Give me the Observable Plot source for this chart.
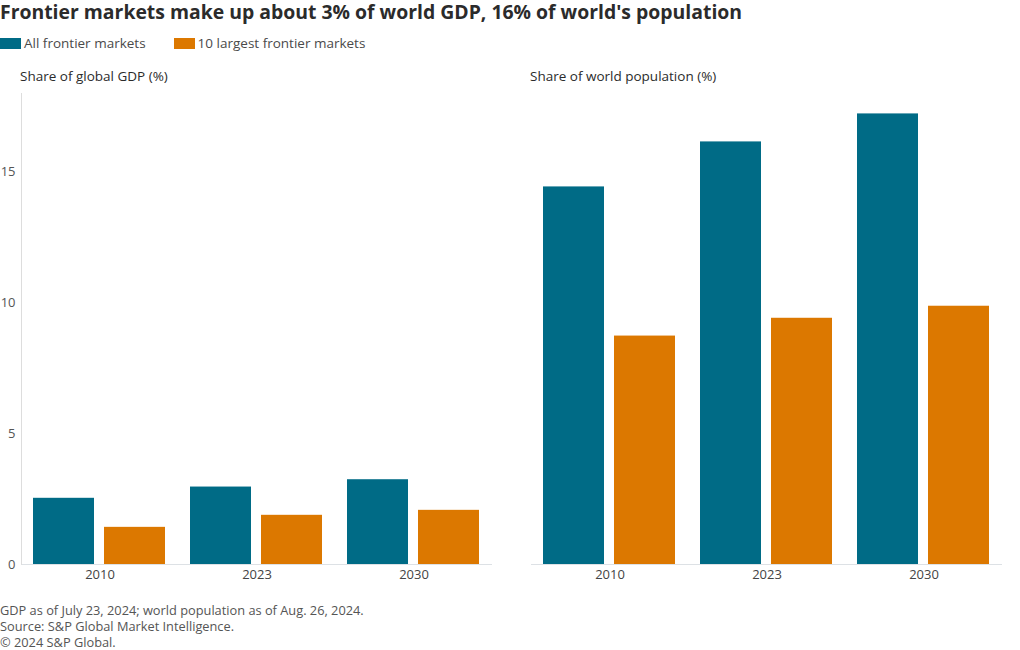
<!DOCTYPE html>
<html>
<head>
<meta charset="utf-8">
<script src="https://cdn.jsdelivr.net/npm/d3@7"></script>
<script src="https://cdn.jsdelivr.net/npm/@observablehq/plot@0.6"></script>
<style>
  html, body { margin: 0; padding: 0; background: #fff; }
  body { width: 1020px; height: 650px; position: relative; overflow: hidden; font-family: "Open Sans", Roboto, sans-serif; }
  .title { position: absolute; left: 0; top: -1px; font-size: 19.4px; font-weight: 700; color: #2b2b2b; white-space: nowrap; line-height: 26px; }
  .legend { position: absolute; left: 0; top: 34px; font-size: 13.5px; color: #4a4a4a; display: flex; align-items: center; line-height: 18px; }
  .legend .item { display: flex; align-items: center; margin-right: 28px; }
  .legend .sw { width: 21px; height: 11px; margin-right: 3px; }
  .sub { position: absolute; top: 67px; font-size: 13.5px; color: #2b2b2b; white-space: nowrap; line-height: 18px; }
  .panel { position: absolute; top: 85px; }
  .foot { position: absolute; left: 0; top: 602px; font-size: 12.8px; color: #555; line-height: 16px; white-space: nowrap; }
</style>
</head>
<body>
<div class="title" id="title"></div>
<div class="legend" id="legend"></div>
<div class="sub" id="sub0" style="left:20px"></div>
<div class="sub" id="sub1" style="left:530px"></div>
<div class="panel" id="p0" style="left:0px"></div>
<div class="panel" id="p1" style="left:510px"></div>
<div class="foot" id="foot"></div>
<script>
const titleText = "Frontier markets make up about 3% of world GDP, 16% of world's population";
const seriesNames = ["All frontier markets", "10 largest frontier markets"];
const seriesColors = ["#006B86", "#DC7800"];
const years = ["2010", "2023", "2030"];
const panelTitles = ["Share of global GDP (%)", "Share of world population (%)"];
const gdpAll = [2.53, 2.96, 3.24];
const gdpTop10 = [1.42, 1.88, 2.07];
const popAll = [14.43, 16.15, 17.22];
const popTop10 = [8.73, 9.41, 9.87];
const yTicks = [0, 5, 10, 15];
const footLines = [
  "GDP as of July 23, 2024; world population as of Aug. 26, 2024.",
  "Source: S&P Global Market Intelligence.",
  "\u00A9 2024 S&P Global."
];

document.getElementById("title").textContent = titleText;
const leg = document.getElementById("legend");
seriesNames.forEach((s, i) => {
  const it = document.createElement("div"); it.className = "item";
  const sw = document.createElement("div"); sw.className = "sw"; sw.style.background = seriesColors[i];
  const tx = document.createElement("span"); tx.textContent = s;
  it.appendChild(sw); it.appendChild(tx); leg.appendChild(it);
});
document.getElementById("sub0").textContent = panelTitles[0];
document.getElementById("sub1").textContent = panelTitles[1];
document.getElementById("foot").innerHTML = footLines.map(l => l.replace(/&/g, "&amp;")).join("<br>");

function rows(allVals, topVals) {
  const out = [];
  years.forEach((y, i) => {
    out.push({year: y, series: seriesNames[0], value: allVals[i]});
    out.push({year: y, series: seriesNames[1], value: topVals[i]});
  });
  return out;
}

function panel(data, showY) {
  const marks = [
    Plot.barY(data, {fx: "year", x: "series", y: "value", fill: "series"}),
    Plot.ruleY([0], {stroke: "#dde1e5", strokeWidth: 1})
  ];
  if (showY) {
    marks.push(Plot.axisY({ticks: yTicks, tickSize: 0, tickPadding: 6, fontSize: 13, fill: "#555", label: null}));
    marks.push(Plot.frame({anchor: "left", stroke: "#dddddd", facetAnchor: "left"}));
  }
  return Plot.plot({
    width: 510,
    height: 509,
    marginTop: 8,
    marginBottom: 30,
    marginLeft: 20,
    marginRight: 17,
    style: {fontFamily: "'Open Sans', Roboto, sans-serif", fontSize: "13px", color: "#444", background: "#fff"},
    fx: {domain: years, padding: 0, label: null, tickSize: 0, tickPadding: 5, fontSize: 13},
    x: {domain: seriesNames, axis: null, paddingInner: 0.14, paddingOuter: 0.167},
    y: {domain: [0, 18], axis: null},
    color: {domain: seriesNames, range: seriesColors},
    marks
  });
}

document.getElementById("p0").appendChild(panel(rows(gdpAll, gdpTop10), true));
document.getElementById("p1").appendChild(panel(rows(popAll, popTop10), false));
</script>
</body>
</html>
